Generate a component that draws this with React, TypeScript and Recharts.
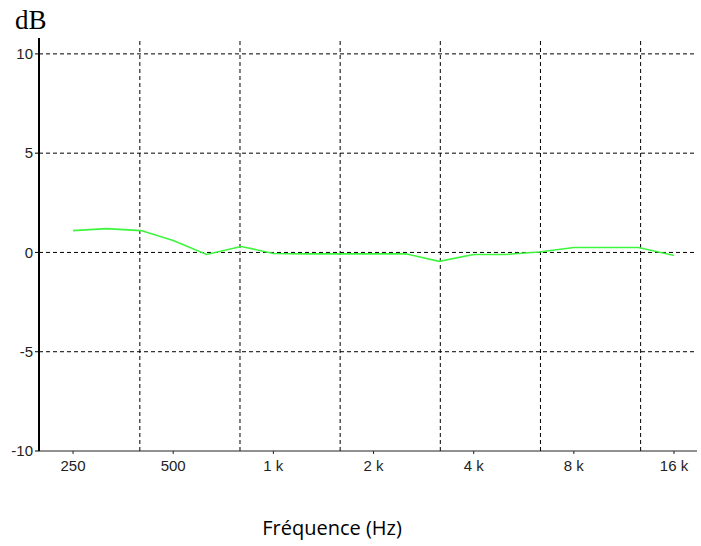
import { LineChart, Line, XAxis, YAxis, ReferenceLine } from 'recharts';

// third-octave band centres (Hz) and measured level (dB)
const freqs = [250, 315, 400, 500, 630, 800, 1000, 1250, 1600, 2000, 2500, 3150, 4000, 5000, 6300, 8000, 10000, 12500, 16000];
const levels = [1.1, 1.2, 1.1, 0.6, -0.1, 0.3, -0.05, -0.07, -0.07, -0.07, -0.07, -0.45, -0.1, -0.1, 0.02, 0.25, 0.25, 0.25, -0.15];

const xTicks = [250, 500, 1000, 2000, 4000, 8000, 16000];
const xTickLabels = ['250', '500', '1 k', '2 k', '4 k', '8 k', '16 k'];
const yTicks = [-10, -5, 0, 5, 10];
const yGrid = [10, 5, 0, -5];
const gridFreqs = [396.85, 793.7, 1587.4, 3174.8, 6349.6, 12699.2];

const data = freqs.map((f, i) => ({ f, db: levels[i] }));

if (typeof document !== 'undefined') document.body.style.margin = '0';

const tickStyle = { fontSize: 15, fill: '#222', fontFamily: '"Liberation Sans", Arial, sans-serif' };

export default function App() {
  return (
    <div style={{ position: 'relative', width: 701, height: 546, background: '#fff' }}>
      <LineChart width={701} height={546} data={data} margin={{ top: 38, right: 4, left: 0, bottom: 0 }}>
        {yGrid.map((v) => (
          <ReferenceLine key={'y' + v} y={v} stroke="#000" strokeDasharray="4 3" />
        ))}
        {gridFreqs.map((g) => (
          <ReferenceLine key={g} x={g} stroke="#000" strokeDasharray="4 3" />
        ))}
        <XAxis
          dataKey="f"
          type="number"
          scale="log"
          domain={[197.5, 18760]}
          ticks={xTicks}
          tickFormatter={(v) => xTickLabels[xTicks.indexOf(v)] ?? String(v)}
          allowDataOverflow
          height={95}
          tick={tickStyle}
          tickSize={3}
          tickMargin={6}
          stroke="#222"
        />
        <YAxis
          type="number"
          domain={[-10, 10.8]}
          ticks={yTicks}
          allowDataOverflow
          width={39}
          tick={tickStyle}
          tickSize={4}
          tickMargin={2}
          axisLine={{ stroke: '#000', strokeWidth: 2 }}
          tickLine={{ stroke: '#000' }}
        />
        <Line type="linear" dataKey="db" stroke="#3ef53e" strokeWidth={1.6} dot={false} isAnimationActive={false} />
      </LineChart>
      <svg width={701} height={546} style={{ position: 'absolute', left: 0, top: 0, pointerEvents: 'none' }}>
        <text x={15} y={29} fontFamily='"Liberation Serif", "Times New Roman", serif' fontSize={27} fill="#000">
          dB
        </text>
        <text x={332} y={535} textAnchor="middle" fontFamily='"Open Sans", sans-serif' fontSize={20} fill="#000">
          Fréquence (Hz)
        </text>
      </svg>
    </div>
  );
}
